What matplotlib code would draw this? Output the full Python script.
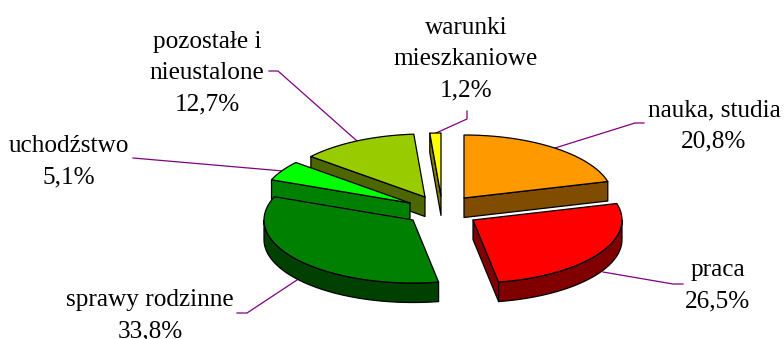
import numpy as np
import matplotlib
matplotlib.use("Agg")
import matplotlib.pyplot as plt
from matplotlib.patches import Polygon

labels = ["nauka, studia", "praca", "sprawy rodzinne", "uchodźstwo", "pozostałe i\nnieustalone", "warunki\nmieszkaniowe"]
values = [20.8, 26.5, 33.8, 5.1, 12.7, 1.2]
value_labels = ["20,8%", "26,5%", "33,8%", "5,1%", "12,7%", "1,2%"]
top_colors = ["#FF9900", "#FF0000", "#008000", "#00FF00", "#99CC00", "#FFFF00"]
side_colors = ["#804D00", "#800000", "#004000", "#008000", "#4D6600", "#808000"]

# wedge apex in pixels, one per slice
apex_x = [464, 473, 413, 410, 425, 441]
apex_y = [198, 220, 220, 203, 197, 196]
text_x = [714, 718, 150, 69, 207, 466]
text_y = [126, 286, 316, 162, 73, 59]
leader_lines = [
    [(644, 123), (635, 123), (555, 148)],
    [(683, 284), (673, 284), (603, 272)],
    [(237, 313), (247, 313), (297, 280)],
    [(133, 158), (283, 171)],
    [(269, 71), (278, 71), (357, 141)],
    [(467, 111), (467, 119), (436, 133)],
]

rx, ry, depth = 149, 63, 19.5

fig = plt.figure(figsize=(7.84, 3.39), dpi=100)
ax = fig.add_axes([0, 0, 1, 1])
ax.set_xlim(0, 784)
ax.set_ylim(339, 0)
ax.axis("off")


def pt(cx, cy, t):
    return cx + rx * np.cos(t), cy - ry * np.sin(t)


def arc(cx, cy, t0, t1):
    t = np.linspace(t0, t1, 80)
    return np.column_stack([cx + rx * np.cos(t), cy - ry * np.sin(t)])


angles = np.radians(90 - np.cumsum([0] + values) * 360 / sum(values))
ec = dict(edgecolor="black", linewidth=0.9, joinstyle="round")

for pts in leader_lines:
    xs, ys = zip(*pts)
    ax.plot(xs, ys, color="#800080", lw=0.9, zorder=1)

# back slices first
for i in [5, 4, 0, 3, 2, 1]:
    cx, cy = apex_x[i], apex_y[i]
    t0, t1 = angles[i], angles[i + 1]
    # cut faces that can be seen from the front
    for t, visible in ((t0, np.cos(t0) < 0), (t1, np.cos(t1) > 0)):
        if visible:
            x, y = pt(cx, cy, t)
            face = [(cx, cy), (x, y), (x, y + depth), (cx, cy + depth)]
            ax.add_patch(Polygon(face, closed=True, facecolor=side_colors[i], zorder=2, **ec))
    # outer rim, front half only
    a, b = max(t1, -np.pi), min(t0, 0)
    if b > a:
        rim = arc(cx, cy, a, b)
        ax.add_patch(Polygon(np.vstack([rim, rim[::-1] + [0, depth]]), closed=True,
                             facecolor=side_colors[i], zorder=2, **ec))
    top = np.vstack([[cx, cy], arc(cx, cy, t0, t1)])
    ax.add_patch(Polygon(top, closed=True, facecolor=top_colors[i], zorder=2, **ec))

for i in range(len(labels)):
    ax.text(text_x[i], text_y[i], labels[i] + "\n" + value_labels[i], ha="center", va="center",
            fontsize=18.2, family="Liberation Serif", linespacing=1.53, color="black", zorder=6)

fig.savefig("out.png", dpi=100)
